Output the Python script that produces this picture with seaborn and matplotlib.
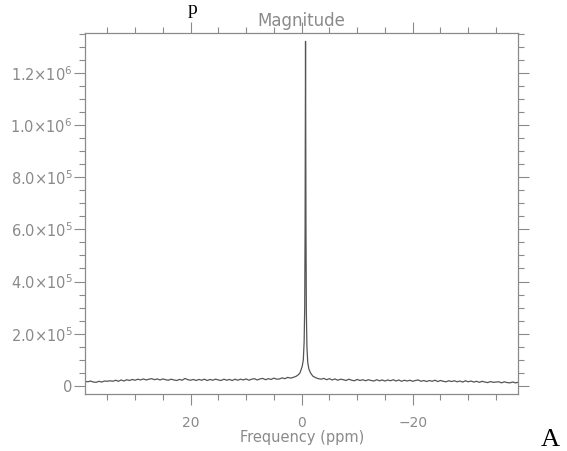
import numpy as np
import pandas as pd
import matplotlib
matplotlib.use('Agg')
import matplotlib.pyplot as plt
from matplotlib.ticker import MultipleLocator, FuncFormatter
import seaborn as sns

# 频率轴 (ppm) 与幅值 (单位 1e4)
freq_left = np.arange(39.0, 1.75, -0.5)
mag_left = [1.8, 1.6, 1.9, 1.5, 1.4, 1.8, 1.5, 1.9,
            1.8, 2.0, 1.8, 2.2, 1.8, 2.3, 1.9, 2.4,
            2.1, 2.5, 2.2, 2.6, 2.3, 2.7, 2.3, 2.6,
            2.8, 2.4, 2.7, 2.3, 2.7, 2.4, 2.2, 2.6,
            2.3, 2.1, 2.5, 2.2, 2.9, 2.4, 2.2, 2.5,
            2.1, 2.5, 2.2, 2.6, 2.1, 2.5, 2.2, 2.6,
            2.3, 2.1, 2.6, 2.2, 2.5, 2.1, 2.6, 2.2,
            2.6, 2.3, 2.7, 2.2, 2.6, 2.8, 2.3, 2.7,
            2.9, 2.4, 2.8, 2.5, 3.0, 2.6, 2.7, 3.1,
            2.8, 3.3, 3.0]

freq_peak = [1.5, 1.0, 0.6, 0.3, 0.1, -0.1, -0.3, -0.45, -0.55, -0.62, -0.66,
             -0.7, -0.74, -0.78, -0.85, -0.95, -1.1, -1.3, -1.6, -2.0, -2.5, -3.0]
mag_peak = [3.3, 3.7, 4.3, 5.0, 6.2, 7.5, 10, 17, 30, 60, 100,
            132, 95, 60, 28, 15, 9, 6.5, 5.0, 3.8, 3.2, 2.8]

freq_right = np.arange(-3.5, -39.25, -0.5)
mag_right = [2.6, 2.9, 2.4, 2.8, 2.3, 2.7, 2.2, 2.6,
             2.4, 2.1, 2.6, 2.2, 2.0, 2.5, 2.1, 2.4,
             2.0, 2.4, 2.1, 1.9, 2.4, 2.0, 2.3, 1.9,
             2.3, 2.0, 2.4, 1.9, 2.3, 1.8, 2.2, 1.9,
             2.2, 1.8, 2.1, 2.3, 1.8, 2.1, 1.7, 2.1,
             1.8, 2.2, 1.7, 2.1, 1.8, 1.6, 2.0, 1.7,
             2.0, 1.6, 1.9, 1.5, 2.0, 1.6, 1.9, 1.5,
             1.8, 1.4, 1.8, 1.5, 1.3, 1.7, 1.4, 1.5,
             1.6, 1.2, 1.6, 1.3, 1.2, 1.5, 1.2, 1.4]

data = pd.DataFrame({
    'freq': np.concatenate([freq_left, freq_peak, freq_right]),
    'mag': np.concatenate([mag_left, mag_peak, mag_right]) * 1e4,
})

sns.set_style('ticks')
plt.rcParams['font.family'] = ['DejaVu Sans']

grey = '#8a8a8a'
fig = plt.figure(figsize=(5.67, 4.51), dpi=100)
ax = fig.add_axes([0.150, 0.1264, 0.764, 0.8004])

sns.lineplot(data=data, x='freq', y='mag', ax=ax, color='#555555',
             linewidth=0.9, estimator=None, sort=False)

ax.set_xlim(39, -39)
ax.set_ylim(-3.07e4, 1.352e6)

ax.xaxis.set_major_locator(MultipleLocator(20))
ax.xaxis.set_minor_locator(MultipleLocator(5))
ax.yaxis.set_major_locator(MultipleLocator(2e5))
ax.yaxis.set_minor_locator(MultipleLocator(5e4))


def sci_fmt(v, pos):
    if abs(v) < 1:
        return '0'
    e = int(np.floor(np.log10(abs(v))))
    m = v / 10 ** e
    return f'{m:.1f}×10$^{{{e}}}$'


def x_fmt(v, pos):
    return f'{v:.0f}'.replace('-', '−')


ax.yaxis.set_major_formatter(FuncFormatter(sci_fmt))
ax.xaxis.set_major_formatter(FuncFormatter(x_fmt))

ax.tick_params(which='both', direction='out', top=True, right=True,
               color=grey, labelcolor=grey, width=0.8)
ax.tick_params(which='major', length=8)
ax.tick_params(which='minor', length=4)
ax.tick_params(axis='x', pad=8, labelsize=10)
ax.tick_params(axis='y', pad=1, labelsize=10.5)

for s in ax.spines.values():
    s.set_color(grey)
    s.set_linewidth(0.9)

ax.set_title('Magnitude', color=grey, fontsize=12, pad=5)
ax.set_xlabel('Frequency (ppm)', color=grey, fontsize=10.5, labelpad=0)
ax.set_ylabel('')

fig.text(550 / 567, 1 - 440 / 451, 'A', family='Liberation Serif',
         fontsize=19, color='black', ha='center', va='center')
fig.text(193 / 567, 1 - 1 / 451, 'p', family='Liberation Serif',
         fontsize=14, color='black', ha='center', va='top')

plt.savefig('out.png', dpi=100)
